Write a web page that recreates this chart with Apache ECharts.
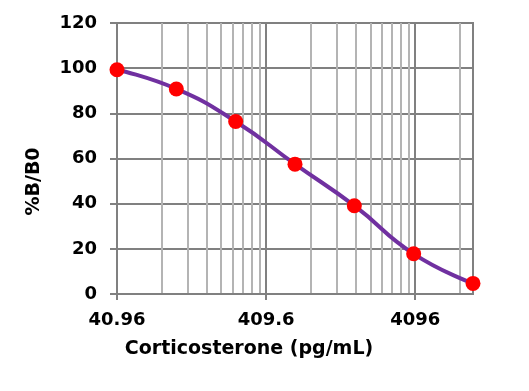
<!DOCTYPE html>
<html>
<head>
<meta charset="utf-8">
<script src="https://cdn.jsdelivr.net/npm/echarts@6/dist/echarts.min.js"></script>
<style>
html,body{margin:0;padding:0;background:#fff;}
#c{width:529px;height:391px;}
</style>
</head>
<body>
<div id="c"></div>
<script>
// Data
var concentrations = [40.96, 102.4, 256, 640, 1600, 4000, 10000];
var percentBB0 = [99.3, 90.8, 76.4, 57.5, 39.1, 17.8, 4.7];
var xTickLabels = [40.96, 409.6, 4096];
var xMin = 40.96, xMax = 10000;

// minor grid values: 2x..9x of each decade start, within axis range
var minorValues = [];
xTickLabels.forEach(function (d) {
  for (var k = 2; k <= 9; k++) {
    var v = +(d * k).toPrecision(8);
    if (v < xMax) minorValues.push(v);
  }
});

var font = 'DejaVu Sans';
var chart = echarts.init(document.getElementById('c'), null, { renderer: 'canvas' });
chart.setOption({
  animation: false,
  backgroundColor: '#ffffff',
  grid: {
    left: 117, right: 56, top: 23, bottom: 97,
    show: true, borderColor: '#808080', borderWidth: 2, backgroundColor: 'transparent'
  },
  xAxis: [{
    type: 'log',
    logBase: 10,
    min: xMin,
    max: xMax,
    z: 2,
    name: 'Corticosterone (pg/mL)',
    nameLocation: 'middle',
    nameGap: 46,
    nameTextStyle: { fontFamily: font, fontWeight: 'bold', fontSize: 19, color: '#000', padding: [0, 92, 0, 0] },
    axisLine: { show: true, lineStyle: { color: '#808080', width: 2 } },
    axisTick: { show: true, customValues: xTickLabels, length: 6, lineStyle: { color: '#808080', width: 2 } },
    axisLabel: {
      customValues: xTickLabels,
      margin: 17,
      fontFamily: font, fontWeight: 'bold', fontSize: 18, color: '#000',
      formatter: function (v) { return String(+(+v).toPrecision(6)); }
    },
    splitLine: { show: true, lineStyle: { color: '#808080', width: 2 } },
    minorTick: { show: false },
    minorSplitLine: { show: false }
  }, {
    type: 'log',
    logBase: 10,
    min: xMin,
    max: xMax,
    position: 'bottom',
    z: 1,
    axisLine: { show: false },
    axisTick: { show: false, customValues: minorValues },
    axisLabel: { show: false, customValues: minorValues },
    splitLine: { show: true, lineStyle: { color: '#b4b4b4', width: 2 } }
  }],
  yAxis: {
    type: 'value',
    min: 0, max: 120, interval: 20,
    name: '%B/B0',
    nameLocation: 'middle',
    nameGap: 73,
    nameRotate: 90,
    nameTextStyle: { fontFamily: font, fontWeight: 'bold', fontSize: 19, color: '#000', padding: [0, 46, 0, 0] },
    axisLine: { show: true, lineStyle: { color: '#808080', width: 2 } },
    axisTick: { show: true, inside: false, length: 7, lineStyle: { color: '#808080', width: 2 } },
    axisLabel: { margin: 20, fontFamily: font, fontWeight: 'bold', fontSize: 18, color: '#000' },
    splitLine: { show: true, lineStyle: { color: '#808080', width: 2 } }
  },
  series: [{
    type: 'line',
    xAxisIndex: 0,
    data: concentrations.map(function (c, i) { return [c, percentBB0[i]]; }),
    smooth: 0.5,
    symbol: 'circle',
    symbolSize: 15,
    showAllSymbol: true,
    z: 5,
    lineStyle: { color: '#7030A0', width: 4 },
    itemStyle: { color: '#FF0000', borderWidth: 0 },
    clip: false
  }]
});
</script>
</body>
</html>
